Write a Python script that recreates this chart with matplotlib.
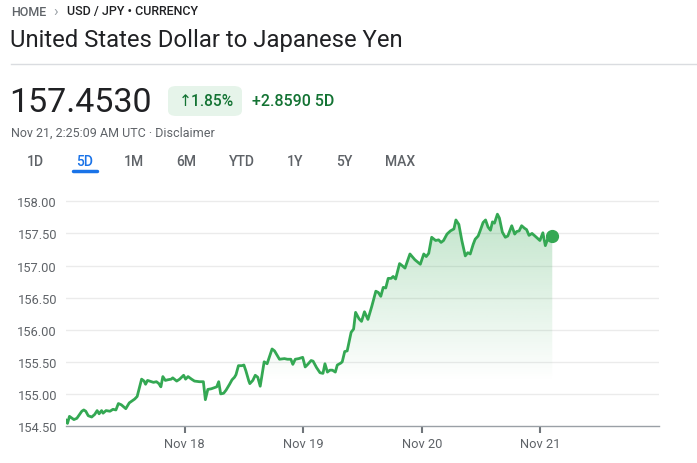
import numpy as np
import pandas as pd
import matplotlib
matplotlib.use('Agg')
import matplotlib.pyplot as plt
import matplotlib.dates as mdates
from matplotlib.patches import Polygon, FancyBboxPatch

plt.rcParams['font.family'] = ['Roboto', 'DejaVu Sans']

# ---- data: USD/JPY, hours since Nov 17 00:00 UTC ----
hours = [0.0, 0.3, 0.7, 1.6, 2.2, 3.2, 3.6, 4.0, 4.5, 5.2, 5.8, 6.3, 6.7, 7.2, 7.5, 8.1,
         8.9, 9.5, 10.1, 10.6, 11.2, 12.1, 12.8, 13.9, 14.4, 15.3, 15.8, 16.1, 16.5, 17.3,
         17.7, 18.3, 18.8, 19.2, 19.6, 20.1, 20.6, 21.3, 21.6, 22.4, 23.0, 23.8, 24.2, 24.7,
         25.4, 26.0, 27.0, 27.8, 28.2, 28.7, 29.4, 30.1, 30.5, 30.9, 31.3, 31.9, 32.4, 33.1,
         33.6, 34.1, 34.4, 34.9, 35.6, 36.0, 36.4, 37.0, 37.2, 37.8, 38.3, 38.8, 39.3, 40.1,
         40.7, 41.7, 42.2, 43.2, 44.2, 44.8, 45.5, 45.9, 46.4, 47.1, 47.9, 48.4, 48.8, 49.6,
         50.0, 50.7, 51.4, 52.0, 52.4, 52.9, 53.4, 53.9, 54.5, 54.9, 55.6, 55.9, 56.4, 56.9,
         57.7, 58.2, 58.6, 59.3, 59.8, 60.4, 61.1, 61.9, 62.7, 63.2, 63.7, 64.2, 64.7, 65.2,
         65.8, 66.2, 66.7, 67.5, 68.0, 68.6, 69.6, 70.6, 71.7, 72.4, 72.9, 73.4, 74.0, 74.8,
         75.4, 75.9, 76.4, 77.1, 77.8, 78.5, 78.9, 79.5, 80.1, 80.8, 81.3, 81.8, 82.4, 82.8,
         83.4, 83.8, 84.4, 84.9, 85.4, 85.9, 86.3, 86.7, 87.3, 87.7, 88.3, 88.9, 89.4, 90.2,
         90.8, 91.2, 91.7, 92.2, 92.8, 93.2, 93.7, 94.3, 94.9, 95.9, 96.5, 97.0, 97.5, 98.4]
rates = [154.59, 154.54, 154.65, 154.60, 154.62, 154.73, 154.75, 154.73, 154.66, 154.64,
         154.68, 154.74, 154.69, 154.74, 154.70, 154.74, 154.73, 154.76, 154.75, 154.85,
         154.83, 154.77, 154.86, 154.92, 154.96, 155.23, 155.20, 155.15, 155.21, 155.19,
         155.18, 155.19, 155.16, 155.11, 155.27, 155.21, 155.22, 155.23, 155.25, 155.20,
         155.23, 155.29, 155.23, 155.27, 155.23, 155.20, 155.19, 155.19, 154.91, 155.07,
         155.08, 155.10, 155.11, 155.19, 155.00, 155.01, 155.06, 155.15, 155.22, 155.26,
         155.30, 155.44, 155.44, 155.45, 155.36, 155.20, 155.16, 155.21, 155.29, 155.26,
         155.12, 155.50, 155.47, 155.70, 155.67, 155.54, 155.55, 155.54, 155.54, 155.46,
         155.54, 155.55, 155.57, 155.42, 155.45, 155.52, 155.51, 155.41, 155.33, 155.32,
         155.47, 155.34, 155.37, 155.37, 155.34, 155.45, 155.48, 155.50, 155.66, 155.67,
         155.96, 156.01, 156.27, 156.17, 156.13, 156.28, 156.16, 156.37, 156.60, 156.58,
         156.52, 156.66, 156.65, 156.80, 156.80, 156.83, 156.79, 157.03, 157.00, 156.96,
         157.18, 157.09, 157.02, 157.18, 157.14, 157.19, 157.44, 157.39, 157.40, 157.36,
         157.39, 157.49, 157.54, 157.57, 157.71, 157.64, 157.39, 157.15, 157.20, 157.18,
         157.33, 157.41, 157.46, 157.54, 157.67, 157.71, 157.60, 157.55, 157.68, 157.66,
         157.80, 157.74, 157.52, 157.44, 157.46, 157.62, 157.49, 157.53, 157.54, 157.62,
         157.58, 157.56, 157.47, 157.50, 157.46, 157.39, 157.51, 157.31, 157.42, 157.4530]
yticks = [154.5, 155.0, 155.5, 156.0, 156.5, 157.0, 157.5, 158.0]
xtick_days = ['2024-11-18', '2024-11-19', '2024-11-20', '2024-11-21']
tabs = ['1D', '5D', '1M', '6M', 'YTD', '1Y', '5Y', 'MAX']
tab_x = [35, 85, 134, 186, 242, 295, 344, 400]

GREEN = '#34a853'
DKGREEN = '#137333'
GRAY = '#5f6368'
W, H = 697, 464

start = pd.Timestamp('2024-11-17')
times = [start + pd.Timedelta(hours=h) for h in hours]
xnum = mdates.date2num(times)

fig = plt.figure(figsize=(W / 100, H / 100), dpi=100)


def txt(x, y, s, **kw):
    kw.setdefault('va', 'center')
    return fig.text(x / W, 1 - y / H, s, **kw)


# header
txt(11, 12, 'HOME', fontsize=9, color=GRAY, fontweight='medium')
txt(53, 12, '›', fontsize=11, color='#9aa0a6')
txt(67, 12, 'USD / JPY • CURRENCY', fontsize=9, color='#202124', fontweight='medium')
txt(10, 41, 'United States Dollar to Japanese Yen', fontsize=17.2, color='#202124')
fig.add_artist(plt.Line2D([11 / W, 1], [1 - 65 / H] * 2, color='#dadce0', lw=1))

txt(9, 103, '157.4530', fontsize=24.5, color='#202124')
box = FancyBboxPatch((168 / W, 1 - 117 / H), 74 / W, 30 / H,
                     boxstyle='round,pad=0,rounding_size=0.012',
                     transform=fig.transFigure, facecolor='#e6f4ea', edgecolor='none')
fig.add_artist(box)
txt(206, 102, '↑1.85%', fontsize=11.2, color=DKGREEN, ha='center', fontweight='medium')
txt(252, 102, '+2.8590 5D', fontsize=11.5, color=DKGREEN, fontweight='medium')
txt(11, 133, 'Nov 21, 2:25:09 AM UTC · Disclaimer', fontsize=9, color=GRAY)

for label, x in zip(tabs, tab_x):
    c = '#1a73e8' if label == '5D' else GRAY
    txt(x, 162, label, fontsize=10, color=c, ha='center', fontweight='medium')
fig.add_artist(plt.Line2D([73 / W, 97 / W], [1 - 172 / H] * 2, color='#1a73e8', lw=2.5,
                          solid_capstyle='round'))

# chart
left, right, bottom, top = 66, 659, 427, 189.5
ax = fig.add_axes([left / W, 1 - bottom / H, (right - left) / W, (bottom - top) / H])
ax.set_xlim(mdates.date2num(start), mdates.date2num(start + pd.Timedelta(days=5)))
ax.set_ylim(154.5, 158.2)

for v in yticks[1:]:
    ax.axhline(v, color='#ebebeb', lw=1, zorder=0)

# gradient fill under line
ymin, ymax = 154.5, 158.2
gy = np.linspace(ymin, ymax, 300)
alpha = 0.30 * np.clip((gy - 155.2) / (157.8 - 155.2), 0, 1)
img = np.zeros((300, 1, 4))
img[:, 0, :3] = matplotlib.colors.to_rgb(GREEN)
img[:, 0, 3] = alpha
verts = list(zip(xnum, rates)) + [(xnum[-1], ymin), (xnum[0], ymin)]
poly = Polygon(verts, closed=True, facecolor='none', edgecolor='none', transform=ax.transData)
ax.add_patch(poly)
im = ax.imshow(img, extent=[xnum[0], xnum[-1], ymin, ymax], origin='lower',
               aspect='auto', zorder=1, interpolation='bilinear')
im.set_clip_path(poly)

ax.plot(xnum, rates, color=GREEN, lw=2, zorder=3, solid_joinstyle='round')
ax.plot(xnum[-1], rates[-1], 'o', color=GREEN, ms=8.5, zorder=4)

ax.set_yticks(yticks)
ax.set_yticklabels([f'{v:.2f}' for v in yticks])
ax.set_xticks(mdates.date2num(pd.to_datetime(xtick_days)))
ax.set_xticklabels([pd.Timestamp(d).strftime('%b %-d') for d in xtick_days])

for s in ['top', 'right', 'left']:
    ax.spines[s].set_visible(False)
ax.spines['bottom'].set_color('#9aa0a6')
ax.spines['bottom'].set_linewidth(1)
ax.tick_params(axis='y', length=0, pad=6.5, labelsize=9.3, labelcolor='#5f6368')
ax.tick_params(axis='x', length=5, width=1.5, color='#70757a', pad=3, labelsize=9.3,
               labelcolor='#5f6368')
ax.set_facecolor('none')

fig.savefig('out.png', dpi=100)
